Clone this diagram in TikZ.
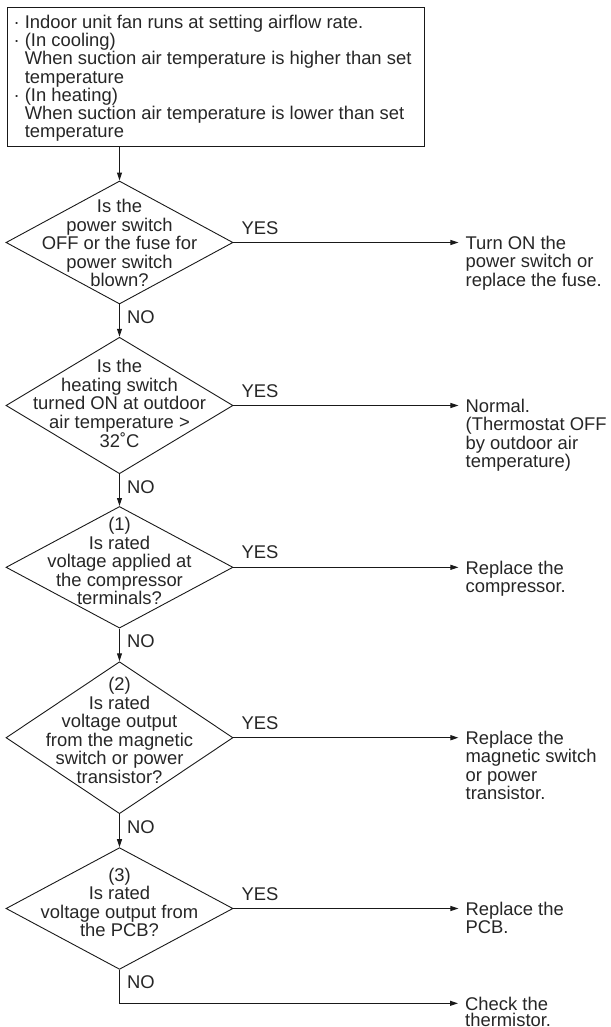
\documentclass[tikz,border=0pt]{standalone}
\usepackage{fontspec}
\setmainfont{Liberation Sans}
\usetikzlibrary{arrows.meta,shapes.geometric}
\begin{document}
\begin{tikzpicture}[x=1pt,y=-1pt,
  font=\fontsize{18.4}{18.5}\selectfont,
  every node/.style={inner sep=0pt, text=black!85},
  startbox/.style={draw=black!90, line width=1.3pt, anchor=north west,
    minimum width=417pt, minimum height=139pt},
  startline/.style={anchor=base west},
  decision/.style={draw=black!90, diamond, line width=0.9pt, minimum width=227pt},
  qtext/.style={align=center},
  outcome/.style={anchor=north west, align=left},
  flow/.style={draw=black!90, line width=1pt, -{Triangle[length=8pt,width=5pt]}},
  branch/.style={anchor=base west},
]
\useasboundingbox (0,0) rectangle (610,1027);

% starting condition: framed box with one node per text line
\node[startbox] (start) at (7,7) {};
\foreach \txt [count=\k from 0] in {
  {·\ Indoor unit fan runs at setting airflow rate.},
  {·\ (In cooling)},
  {\hphantom{·\ }When suction air temperature is higher than set},
  {\hphantom{·\ }temperature},
  {·\ (In heating)},
  {\hphantom{·\ }When suction air temperature is lower than set},
  {\hphantom{·\ }temperature}}
  \node[startline] (sl\k) at (13.4,28.3+18.25*\k) {\txt};

% decisions
\node[decision, minimum height=123pt]   (d1) at (119.5,242.5) {};
\node[qtext] (q1) at (119.5,243.1) {Is the\\power switch\\OFF or the fuse for\\power switch\\blown?};

\node[decision, minimum height=136.5pt] (d2) at (119.5,405.5) {};
\node[qtext] (q2) at (119.5,403.5) {Is the\\heating switch\\turned ON at outdoor\\air temperature >\\32˚C};

\node[decision, minimum height=121.6pt] (d3) at (119.5,567.3) {};
\node[qtext] (q3) at (119.5,561.2) {(1)\\Is rated\\voltage applied at\\the compressor\\terminals?};

\node[decision, minimum height=152pt]   (d4) at (119.5,737.7) {};
\node[qtext] (q4) at (119.5,730.3) {(2)\\Is rated\\voltage output\\from the magnetic\\switch or power\\transistor?};

\node[decision, minimum height=121.7pt] (d5) at (119.5,908.5) {};
\node[qtext] (q5) at (119.5,902.3) {(3)\\Is rated\\voltage output from\\the PCB?};

% results
\node[outcome] (r1) at ([xshift=232pt,yshift=6.8pt]d1.east) {Turn ON the\\power switch or\\replace the fuse.};
\node[outcome] (r2) at ([xshift=232pt,yshift=6.8pt]d2.east) {Normal.\\(Thermostat OFF\\by outdoor air\\temperature)};
\node[outcome] (r3) at ([xshift=232pt,yshift=6.8pt]d3.east) {Replace the\\compressor.};
\node[outcome] (r4) at ([xshift=232pt,yshift=6.8pt]d4.east) {Replace the\\magnetic switch\\or power\\transistor.};
\node[outcome] (r5) at ([xshift=232pt,yshift=6.8pt]d5.east) {Replace the\\PCB.};
\node[outcome, font=\fontsize{18.4}{16.6}\selectfont] (r6) at (465,996.5) {Check the\\thermistor.};

\foreach \i in {1,...,6}
  \coordinate (t\i) at ([xshift=-7pt,yshift=-6.8pt]r\i.north west);

% YES / NO labels
\foreach \i in {1,...,5} {
  \node[branch] (yes\i) at ([xshift=8pt,yshift=8.5pt]d\i.east) {YES};
  \node[branch] (no\i)  at ([xshift=7.5pt,yshift=-19pt]d\i.south) {NO};
}

% connectors
\draw[flow] (start.south -| d1.north) -- (d1.north);
\draw[flow] (d1.south) -- (d2.north);
\draw[flow] (d2.south) -- (d3.north);
\draw[flow] (d3.south) -- (d4.north);
\draw[flow] (d4.south) -- (d5.north);
\foreach \i in {1,...,5}
  \draw[flow] (d\i.east) -- (t\i);
\draw[flow] (d5.south) |- (t6);
\end{tikzpicture}
\end{document}
